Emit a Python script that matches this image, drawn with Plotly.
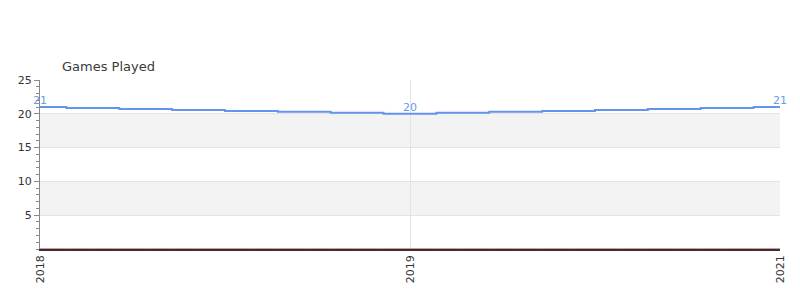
import plotly.graph_objects as go

x_index = list(range(15))
games_played = [21, 20.86, 20.71, 20.57, 20.43, 20.29, 20.14, 20, 20.14, 20.29, 20.43, 20.57, 20.71, 20.86, 21]
point_labels = ["21", "", "", "", "", "", "", "20", "", "", "", "", "", "", "21"]
baseline = [0] * 15
tick_positions = [0, 7, 14]
tick_labels = ["2018", "2019", "2021"]
band_ranges = [(5, 10), (15, 20)]

fig = go.Figure()

for lo, hi in band_ranges:
    fig.add_shape(type="rect", xref="paper", yref="y", x0=0, x1=1, y0=lo, y1=hi,
                  fillcolor="#f3f3f3", line_width=0, layer="below")

fig.add_trace(go.Scatter(
    x=x_index, y=baseline, mode="lines",
    line=dict(color="#d62020", width=1, shape="hvh"),
    hoverinfo="skip", cliponaxis=False,
))
fig.add_trace(go.Scatter(
    x=x_index, y=games_played, mode="lines+text",
    line=dict(color="#6495ED", width=2, shape="hvh"),
    text=point_labels, textposition="top center",
    textfont=dict(color="#6a9ae8", size=11, family="DejaVu Sans"),
    cliponaxis=False,
))

fig.update_layout(
    width=800, height=300,
    margin=dict(l=40, r=20, t=80, b=51),
    plot_bgcolor="white", paper_bgcolor="white",
    showlegend=False,
    font=dict(family="DejaVu Sans", size=11, color="#333"),
    annotations=[dict(text="Games Played", xref="paper", yref="paper",
                      x=0.0297, xshift=-2, y=1.0, yshift=4, xanchor="left", yanchor="bottom",
                      showarrow=False, font=dict(size=13, color="#3a3a3a"))],
)
fig.update_xaxes(
    range=[0, 14], tickmode="array", tickvals=tick_positions, ticktext=tick_labels,
    tickangle=-90, showgrid=True, gridcolor="#e3e3e3", zeroline=False,
    showline=True, linecolor="#333", linewidth=1.5, ticks="", mirror=False,
    tickfont=dict(size=11, color="#333"),
)
fig.update_yaxes(
    range=[0, 25], tickmode="array", tickvals=[5, 10, 15, 20, 25],
    showgrid=True, gridcolor="#e3e3e3", zeroline=False,
    showline=True, linecolor="#888", linewidth=1,
    ticks="outside", ticklen=5, tickcolor="#888",
    minor=dict(dtick=1, ticks="outside", ticklen=3, tickcolor="#888", showgrid=False),
    tickfont=dict(size=11, color="#333"),
)

fig.write_html("out.html")
